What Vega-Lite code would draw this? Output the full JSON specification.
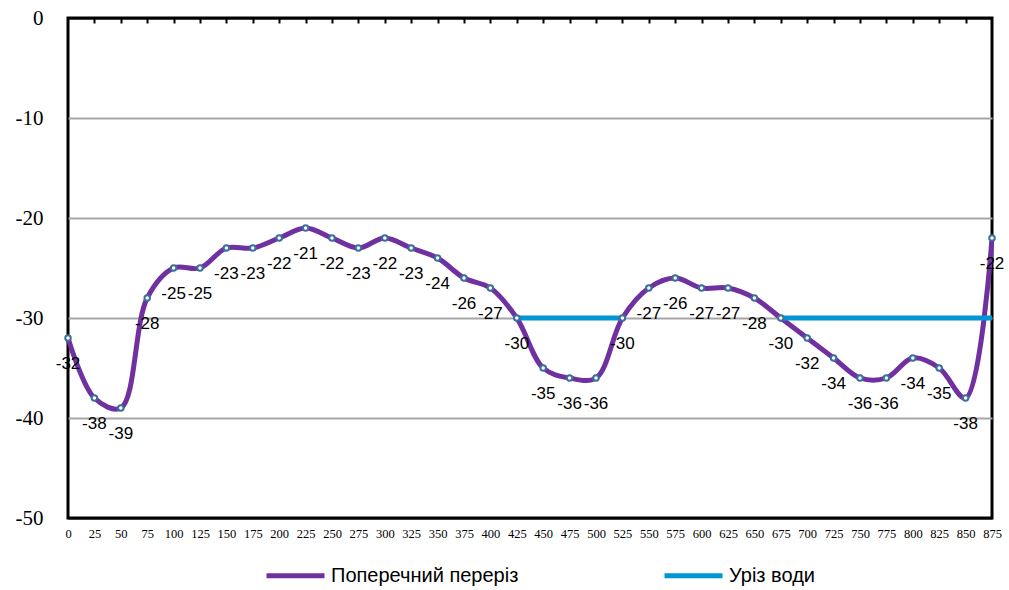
{
  "$schema": "https://vega.github.io/schema/vega-lite/v6.json",
  "width": 924,
  "height": 500,
  "autosize": {"type": "none"},
  "padding": {"left": 68, "top": 18, "right": 17, "bottom": 72},
  "background": "white",
  "config": {
    "view": {"stroke": "black", "strokeWidth": 3},
    "font": "Liberation Sans"
  },
  "resolve": {"axis": {"x": "independent", "y": "independent"}},
  "datasets": {
    "profile": [
      {"d": 0, "z": -32, "series": "Поперечний переріз"},
      {"d": 25, "z": -38, "series": "Поперечний переріз"},
      {"d": 50, "z": -39, "series": "Поперечний переріз"},
      {"d": 75, "z": -28, "series": "Поперечний переріз"},
      {"d": 100, "z": -25, "series": "Поперечний переріз"},
      {"d": 125, "z": -25, "series": "Поперечний переріз"},
      {"d": 150, "z": -23, "series": "Поперечний переріз"},
      {"d": 175, "z": -23, "series": "Поперечний переріз"},
      {"d": 200, "z": -22, "series": "Поперечний переріз"},
      {"d": 225, "z": -21, "series": "Поперечний переріз"},
      {"d": 250, "z": -22, "series": "Поперечний переріз"},
      {"d": 275, "z": -23, "series": "Поперечний переріз"},
      {"d": 300, "z": -22, "series": "Поперечний переріз"},
      {"d": 325, "z": -23, "series": "Поперечний переріз"},
      {"d": 350, "z": -24, "series": "Поперечний переріз"},
      {"d": 375, "z": -26, "series": "Поперечний переріз"},
      {"d": 400, "z": -27, "series": "Поперечний переріз"},
      {"d": 425, "z": -30, "series": "Поперечний переріз"},
      {"d": 450, "z": -35, "series": "Поперечний переріз"},
      {"d": 475, "z": -36, "series": "Поперечний переріз"},
      {"d": 500, "z": -36, "series": "Поперечний переріз"},
      {"d": 525, "z": -30, "series": "Поперечний переріз"},
      {"d": 550, "z": -27, "series": "Поперечний переріз"},
      {"d": 575, "z": -26, "series": "Поперечний переріз"},
      {"d": 600, "z": -27, "series": "Поперечний переріз"},
      {"d": 625, "z": -27, "series": "Поперечний переріз"},
      {"d": 650, "z": -28, "series": "Поперечний переріз"},
      {"d": 675, "z": -30, "series": "Поперечний переріз"},
      {"d": 700, "z": -32, "series": "Поперечний переріз"},
      {"d": 725, "z": -34, "series": "Поперечний переріз"},
      {"d": 750, "z": -36, "series": "Поперечний переріз"},
      {"d": 775, "z": -36, "series": "Поперечний переріз"},
      {"d": 800, "z": -34, "series": "Поперечний переріз"},
      {"d": 825, "z": -35, "series": "Поперечний переріз"},
      {"d": 850, "z": -38, "series": "Поперечний переріз"},
      {"d": 875, "z": -22, "series": "Поперечний переріз"}
    ],
    "water": [
      {"d": 425, "z": -30, "seg": 1, "series": "Уріз води"},
      {"d": 525, "z": -30, "seg": 1, "series": "Уріз води"},
      {"d": 675, "z": -30, "seg": 2, "series": "Уріз води"},
      {"d": 875, "z": -30, "seg": 2, "series": "Уріз води"}
    ]
  },
  "layer": [
    {
      "data": {"name": "profile"},
      "mark": {"type": "line", "strokeWidth": 5, "interpolate": "catmull-rom"},
      "encoding": {
        "x": {
          "field": "d", "type": "quantitative",
          "scale": {"domain": [0, 875], "nice": false, "zero": false},
          "axis": {
            "orient": "bottom", "title": null, "grid": false, "domain": false,
            "ticks": false, "labelPadding": 9, "labelFont": "Liberation Serif",
            "labelFontSize": 12.5, "labelColor": "black", "labelFlush": false, "labelOverlap": false,
            "values": [0,25,50,75,100,125,150,175,200,225,250,275,300,325,350,375,400,425,450,475,500,525,550,575,600,625,650,675,700,725,750,775,800,825,850,875]
          }
        },
        "y": {
          "field": "z", "type": "quantitative",
          "scale": {"domain": [-50, 0], "nice": false},
          "axis": {
            "orient": "left", "title": null, "domain": false, "ticks": false, "labelPadding": 25,
            "labelFont": "Liberation Serif", "labelFontSize": 21, "labelColor": "black",
            "labelExpr": "replace(datum.label, '\u2212', '-')",
            "values": [-50, -40, -30, -20, -10, 0],
            "grid": true,
            "gridColor": {"condition": {"test": "datum.value === 0 || datum.value === -50", "value": "black"}, "value": "#A6A6A6"},
            "gridWidth": 2
          }
        },
        "color": {
          "field": "series", "type": "nominal",
          "scale": {"domain": ["Поперечний переріз", "Уріз води"], "range": ["#7030A0", "#0096D6"]},
          "legend": {
            "title": null, "orient": "none", "legendX": 196, "legendY": 526,
            "direction": "horizontal", "symbolType": "stroke", "symbolSize": 3364,
            "symbolStrokeWidth": 5, "labelFont": "Liberation Sans", "labelFontSize": 20,
            "labelColor": "black", "labelOffset": 4, "columnPadding": 135, "labelLimit": 400
          }
        }
      }
    },
    {
      "data": {"name": "water"},
      "mark": {"type": "line", "strokeWidth": 5},
      "encoding": {
        "x": {
          "field": "d", "type": "quantitative",
          "axis": {
            "orient": "top", "title": null, "labels": false, "grid": false, "domain": false,
            "ticks": true, "tickSize": -5, "tickWidth": 2, "tickColor": "black",
            "values": [25,50,75,100,125,150,175,200,225,250,275,300,325,350,375,400,425,450,475,500,525,550,575,600,625,650,675,700,725,750,775,800,825,850]
          }
        },
        "y": {"field": "z", "type": "quantitative", "axis": null},
        "color": {"field": "series", "type": "nominal"},
        "detail": {"field": "seg"}
      }
    },
    {
      "data": {"name": "profile"},
      "mark": {"type": "point", "shape": "circle", "size": 30, "filled": false, "fill": "white", "stroke": "#3B6E9E", "strokeWidth": 2, "opacity": 1},
      "encoding": {
        "x": {"field": "d", "type": "quantitative", "axis": null},
        "y": {"field": "z", "type": "quantitative", "axis": null}
      }
    },
    {
      "data": {"name": "profile"},
      "mark": {"type": "text", "dy": 26, "align": "center", "baseline": "middle", "fontSize": 17, "font": "Liberation Sans", "color": "black"},
      "encoding": {
        "x": {"field": "d", "type": "quantitative", "axis": null},
        "y": {"field": "z", "type": "quantitative", "axis": null},
        "text": {"field": "z", "type": "nominal"}
      }
    }
  ]
}
